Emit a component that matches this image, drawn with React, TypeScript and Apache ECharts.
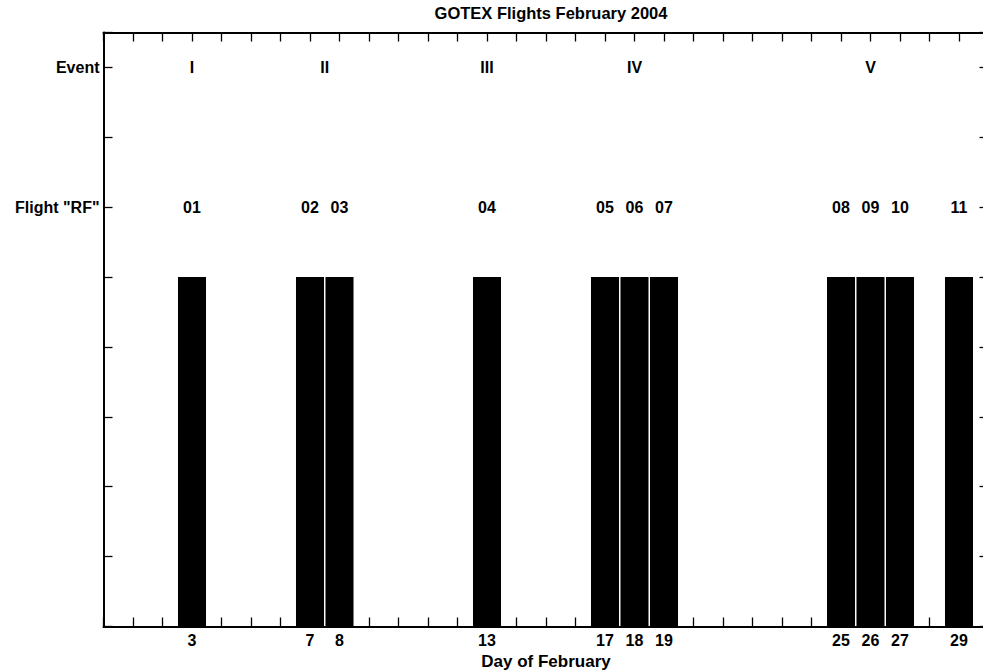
import React, { useEffect, useRef } from "react";
import * as echarts from "echarts";

// Research flight days in February 2004 and their "RF" numbers
const flightDays = [3, 7, 8, 13, 17, 18, 19, 25, 26, 27, 29];
const flightIds = ["01", "02", "03", "04", "05", "06", "07", "08", "09", "10", "11"];
const flightBarHeights = [5, 5, 5, 5, 5, 5, 5, 5, 5, 5, 5];

// Event groupings (roman numerals) and the day each label sits over
const eventNames = ["I", "II", "III", "IV", "V"];
const eventDays = [3, 7.5, 13, 18, 26];

// Rows on the vertical scale
const eventRow = 8;
const flightRow = 6;
const yTickLabels: Record<number, string> = { 8: "Event", 6: 'Flight "RF"' };

const FONT = "Liberation Sans, Arial, sans-serif";

const textBase = () => ({
  fontFamily: FONT,
  fontWeight: "bold" as const,
  color: "#000",
  fontSize: 16,
});
const axisLine = () => ({ show: true, onZero: false, lineStyle: { color: "#000", width: 2 } });
const axisTick = () => ({ show: true, inside: true, length: 9, lineStyle: { color: "#000", width: 1.3 } });

export default function App() {
  const ref = useRef<HTMLDivElement>(null);

  useEffect(() => {
    if (!ref.current) return;
    const chart = echarts.init(ref.current, null, { renderer: "svg" });

    const labelSeries = (days: number[], row: number, texts: string[]) => ({
      type: "scatter",
      symbolSize: 0,
      silent: true,
      itemStyle: { opacity: 1 },
      data: days.map((d, i) => [d, row, texts[i]]),
      label: {
        show: true,
        position: [0, 0],
        align: "center",
        verticalAlign: "middle",
        formatter: (p: any) => p.value[2],
        textBorderWidth: 0,
        opacity: 1,
        ...textBase(),
      },
      z: 5,
    });

    chart.setOption({
      animation: false,
      backgroundColor: "#fff",
      title: {
        text: "GOTEX Flights February 2004",
        left: 546,
        textAlign: "center",
        top: -1,
        textStyle: { ...textBase(), fontSize: 16.5 },
      },
      grid: {
        left: 103.5,
        top: 32.5,
        width: 885,
        height: 594,
        containLabel: false,
        outerBoundsMode: "none",
      },
      xAxis: [
        {
          type: "value",
          min: 0,
          max: 30,
          interval: 1,
          position: "bottom",
          name: "Day of February",
          nameLocation: "middle",
          nameGap: 24,
          nameTextStyle: { ...textBase(), fontSize: 17 },
          axisLine: axisLine(),
          axisTick: axisTick(),
          splitLine: { show: false },
          axisLabel: {
            ...textBase(),
            margin: 6,
            formatter: (v: number) => (flightDays.includes(v) ? String(v) : ""),
          },
        },
        {
          type: "value",
          min: 0,
          max: 30,
          interval: 1,
          position: "top",
          axisLine: axisLine(),
          axisTick: axisTick(),
          splitLine: { show: false },
          axisLabel: { show: false },
        },
      ],
      yAxis: [
        {
          type: "value",
          min: 0,
          max: 8.5,
          interval: 1,
          position: "left",
          axisLine: axisLine(),
          axisTick: axisTick(),
          splitLine: { show: false },
          axisLabel: {
            ...textBase(),
            margin: 4,
            formatter: (v: number) => yTickLabels[v] ?? "",
          },
        },
        {
          type: "value",
          min: 0,
          max: 8.5,
          interval: 1,
          position: "right",
          axisLine: axisLine(),
          axisTick: axisTick(),
          splitLine: { show: false },
          axisLabel: { show: false },
        },
      ],
      series: [
        {
          type: "custom",
          silent: true,
          data: flightDays.map((d, i) => [d, flightBarHeights[i]]),
          renderItem: (_params: any, api: any) => {
            const day = api.value(0);
            const h = api.value(1);
            const p0 = api.coord([day - 0.475, h]);
            const p1 = api.coord([day + 0.475, 0]);
            return {
              type: "rect",
              shape: { x: p0[0], y: p0[1], width: p1[0] - p0[0], height: p1[1] - p0[1] },
              style: { fill: "#000" },
            };
          },
          z: 1,
        },
        labelSeries(flightDays, flightRow, flightIds),
        labelSeries(eventDays, eventRow, eventNames),
      ],
    });

    return () => chart.dispose();
  }, []);

  return (
    <div
      ref={ref}
      style={{ position: "absolute", left: 0, top: 0, width: 983, height: 672, overflow: "hidden" }}
    />
  );
}
